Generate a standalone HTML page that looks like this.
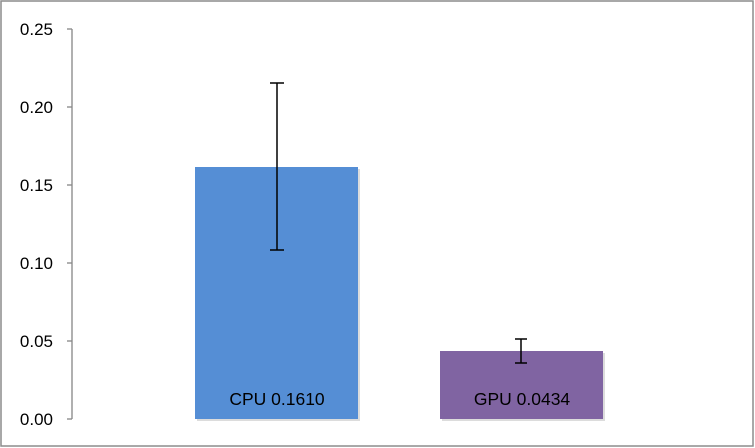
<!DOCTYPE html>
<html><head><style>
html,body{margin:0;padding:0;background:#fff;}
svg{display:block;}
text{font-family:"Liberation Sans",sans-serif;}
</style></head><body>
<svg width="755" height="448" viewBox="0 0 755 448">
<rect x="1" y="1" width="752" height="445" fill="#fff" stroke="#8c8c8c" stroke-width="1.5"/>
<g stroke="#868686" stroke-width="1.3" fill="none">
<line x1="72" y1="29" x2="72" y2="419"/>
<line x1="67" y1="29" x2="72" y2="29"/>
<line x1="67" y1="107" x2="72" y2="107"/>
<line x1="67" y1="185" x2="72" y2="185"/>
<line x1="67" y1="263" x2="72" y2="263"/>
<line x1="67" y1="341" x2="72" y2="341"/>
<line x1="67" y1="419" x2="72" y2="419"/>
</g>
<g font-size="17" fill="#000" text-anchor="end">
<text x="53" y="35">0.25</text>
<text x="53" y="113">0.20</text>
<text x="53" y="191">0.15</text>
<text x="53" y="269">0.10</text>
<text x="53" y="347">0.05</text>
<text x="53" y="425">0.00</text>
</g>
<rect x="197" y="169" width="163" height="252" fill="#dcdcdc"/>
<rect x="195" y="167" width="163" height="252" fill="#558ed5"/>
<rect x="442" y="353" width="163" height="68" fill="#dcdcdc"/>
<rect x="440" y="351" width="163" height="68" fill="#8064a2"/>
<g stroke="#000" stroke-width="1.5">
<line x1="277" y1="83" x2="277" y2="250"/>
<line x1="270" y1="83" x2="284" y2="83"/>
<line x1="270" y1="250" x2="284" y2="250"/>
<line x1="521" y1="339" x2="521" y2="363"/>
<line x1="515" y1="339" x2="527" y2="339"/>
<line x1="515" y1="363" x2="527" y2="363"/>
</g>
<g font-size="17.5" fill="#000" text-anchor="middle">
<text x="277" y="405">CPU 0.1610</text>
<text x="522" y="405">GPU 0.0434</text>
</g>
</svg>
</body></html>
